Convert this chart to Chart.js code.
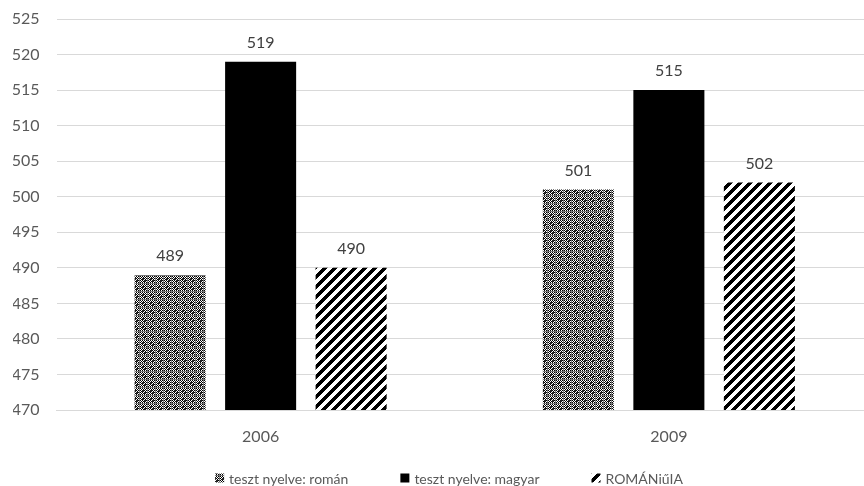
<!DOCTYPE html>
<html>
<head>
<meta charset="utf-8">
<script src="https://cdn.jsdelivr.net/npm/chart.js@4/dist/chart.umd.min.js"></script>
<style>
  html, body { margin: 0; padding: 0; background: #fff; overflow: hidden; }
  #wrap { width: 873px; height: 486px; }
</style>
</head>
<body>
<div id="wrap"><canvas id="chart"></canvas></div>
<script>
const years = ['2006', '2009'];
const seriesNames = ['teszt nyelve: román', 'teszt nyelve: magyar', 'ROMÁNiűIA'];
const romanValues = [489, 501];
const magyarValues = [519, 515];
const romaniaValues = [490, 502];
const yMin = 470;
const yMax = 525;
const yStep = 5;

const textColor = '#595959';

// dense checkered fill
function checkerPattern(ctx) {
    let c = document.createElement('canvas');
    c.width = 8; c.height = 8;
    let g = c.getContext('2d');
    g.fillStyle = '#fff';
    g.fillRect(0, 0, 8, 8);
    g.fillStyle = '#000';
    for (let y = 0; y < 8; y++) {
        for (let x = 0; x < 8; x++) {
            if ((x + y) % 2 === 0) g.fillRect(x, y, 1, 1);
        }
    }
    g.fillStyle = '#777';
    g.fillRect(3, 0, 1, 8);
    g.fillRect(0, 3, 8, 1);
    g.fillStyle = '#222';
    g.fillRect(0, 0, 2, 2);
    g.fillRect(6, 6, 2, 2);
    return ctx.createPattern(c, 'repeat');
}

// wide diagonal stripes, rising to the right (pixel tile so seams line up)
function stripePattern(ctx) {
    let s = 10;
    let c = document.createElement('canvas');
    c.width = s; c.height = s;
    let g = c.getContext('2d');
    g.fillStyle = '#fff';
    g.fillRect(0, 0, s, s);
    g.fillStyle = '#000';
    for (let y = 0; y < s; y++) {
        for (let x = 0; x < s; x++) {
            if ((x + y) % s < 5) g.fillRect(x, y, 1, 1);
        }
    }
    return ctx.createPattern(c, 'repeat');
}

const valueLabels = {
    id: 'valueLabels',
    afterDatasetsDraw(chart) {
        let ctx = chart.ctx;
        ctx.save();
        ctx.font = '16px Lato';
        ctx.fillStyle = '#404040';
        ctx.textAlign = 'center';
        ctx.textBaseline = 'middle';
        chart.data.datasets.forEach((ds, i) => {
            chart.getDatasetMeta(i).data.forEach((bar, j) => {
                ctx.fillText(ds.data[j], bar.x, bar.y - 19);
            });
        });
        ctx.restore();
    }
};

// legend row at the bottom, own spacing
const bottomLegend = {
    id: 'bottomLegend',
    afterDraw(chart) {
        let ctx = chart.ctx;
        let box = 9, gap = 5, itemGap = 52;
        let cx = 449, cy = 478;
        ctx.save();
        ctx.font = '14px Lato';
        ctx.textBaseline = 'middle';
        let items = chart.data.datasets.map(ds => ({
            ds: ds,
            w: box + gap + ctx.measureText(ds.label).width
        }));
        let total = items.reduce((a, it) => a + it.w, 0) + itemGap * (items.length - 1);
        let x = cx - total / 2;
        items.forEach(it => {
            ctx.fillStyle = it.ds.backgroundColor;
            ctx.fillRect(x, cy - box / 2, box, box);
            ctx.fillStyle = textColor;
            ctx.fillText(it.ds.label, x + box + gap, cy + 1);
            x += it.w + itemGap;
        });
        ctx.restore();
    }
};

let canvas = document.getElementById('chart');
let ctx = canvas.getContext('2d');

new Chart(ctx, {
    type: 'bar',
    data: {
        labels: years,
        datasets: [
            { label: seriesNames[0], data: romanValues, backgroundColor: checkerPattern(ctx) },
            { label: seriesNames[1], data: magyarValues, backgroundColor: '#000' },
            { label: seriesNames[2], data: romaniaValues, backgroundColor: stripePattern(ctx) }
        ]
    },
    options: {
        responsive: true,
        maintainAspectRatio: false,
        animation: false,
        datasets: { bar: { categoryPercentage: 0.665, barPercentage: 0.785 } },
        layout: { padding: { left: 13, right: 0, top: 19, bottom: 29.3 } },
        scales: {
            x: {
                afterFit: s => { s.height = 46.7; },
                grid: { display: false, drawTicks: false },
                border: { color: '#d9d9d9' },
                ticks: { color: textColor, font: { family: 'Lato', size: 16 }, padding: 17.5 }
            },
            y: {
                min: yMin,
                max: yMax,
                afterFit: s => {
                    s.width = 43.5;
                    s.paddingTop = 0;
                    s.paddingBottom = 0;
                },
                ticks: { stepSize: yStep, color: textColor, font: { family: 'Lato', size: 16 }, padding: 17 },
                grid: { color: '#d9d9d9', drawTicks: false },
                border: { display: false }
            }
        },
        plugins: {
            legend: { display: false },
            tooltip: { enabled: false }
        }
    },
    plugins: [valueLabels, bottomLegend]
});
</script>
</body>
</html>
